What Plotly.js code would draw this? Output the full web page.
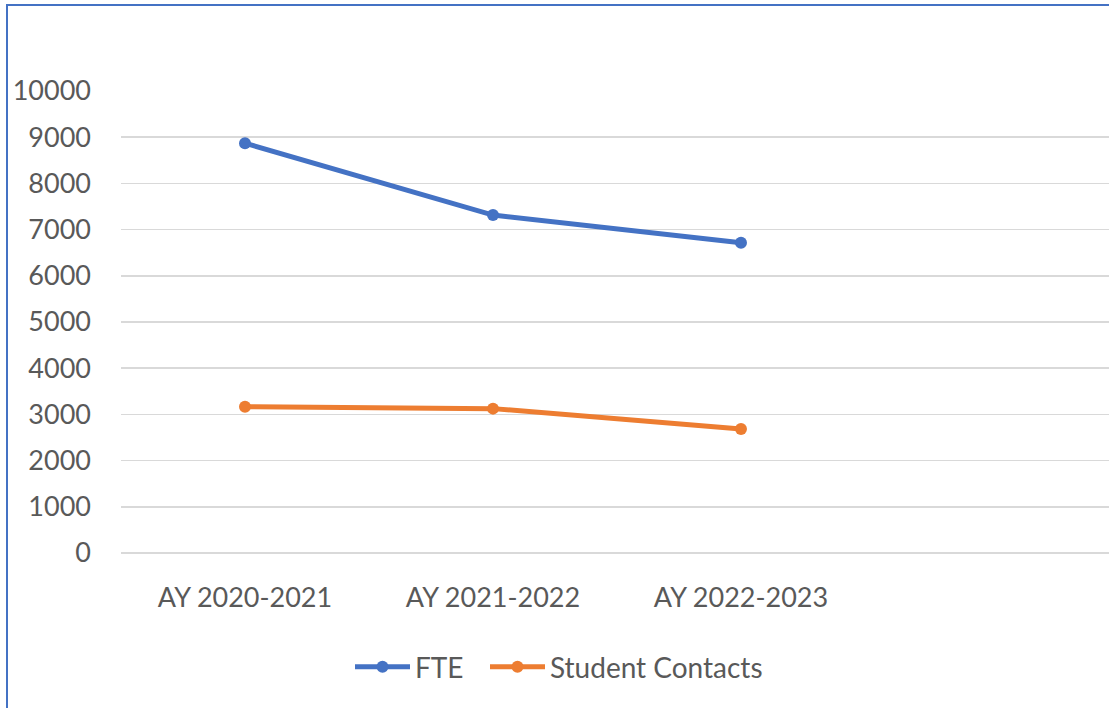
<!DOCTYPE html>
<html>
<head>
<meta charset="utf-8">
<script src="https://cdn.plot.ly/plotly-3.0.1.min.js"></script>
<style>
  html, body { margin: 0; padding: 0; background: #ffffff; overflow: hidden; }
  #chart { width: 1109px; height: 708px; position: absolute; left: 0; top: 0; }
  #frame { position: absolute; left: 6px; top: 4px; width: 1300px; height: 900px;
           border-left: 2px solid #4472C4; border-top: 2px solid #4472C4; pointer-events: none; }
</style>
</head>
<body>
<div id="chart"></div>
<div id="frame"></div>
<script>
const categories = ["AY 2020-2021", "AY 2021-2022", "AY 2022-2023"];
const fteValues = [8870, 7315, 6715];
const contactValues = [3165, 3125, 2685];
const seriesNames = ["FTE", "Student Contacts"];
const yTicks = [0, 1000, 2000, 3000, 4000, 5000, 6000, 7000, 8000, 9000, 10000];

const fontFamily = "Lato, 'Open Sans', 'Liberation Sans', sans-serif";
const textColor = "#595959";

const traces = [
  {
    x: categories, y: fteValues, name: seriesNames[0], type: "scatter", mode: "lines+markers",
    line: { color: "#4472C4", width: 5 },
    marker: { color: "#4472C4", size: 12 },
    cliponaxis: false, legend: "legend"
  },
  {
    x: categories, y: contactValues, name: seriesNames[1], type: "scatter", mode: "lines+markers",
    line: { color: "#ED7D31", width: 5 },
    marker: { color: "#ED7D31", size: 12 },
    cliponaxis: false, legend: "legend2"
  }
];

const legendCommon = {
  orientation: "h", xref: "container", yref: "container",
  xanchor: "left", y: 0.058, yanchor: "middle",
  font: { family: fontFamily, color: textColor, size: 28 },
  itemwidth: 55, bgcolor: "rgba(0,0,0,0)"
};

const layout = {
  width: 1109, height: 708,
  margin: { l: 121, r: 0, t: 91, b: 155, pad: 0 },
  paper_bgcolor: "#ffffff", plot_bgcolor: "#ffffff",
  font: { family: fontFamily, color: textColor, size: 27 },
  showlegend: true,
  legend: Object.assign({}, legendCommon, { x: 350 / 1109 }),
  legend2: Object.assign({}, legendCommon, { x: 485 / 1109 }),
  xaxis: {
    type: "category", categoryorder: "array", categoryarray: categories,
    range: [-0.5, 3.484], showgrid: false, zeroline: false, showline: false,
    ticks: "", ticklabelstandoff: 26,
    tickfont: { family: fontFamily, color: textColor, size: 27 }
  },
  yaxis: {
    range: [0, 10000], tickvals: yTicks, ticktext: yTicks.map(String),
    showgrid: true, gridcolor: "#d9d9d9", gridwidth: 1.5,
    zeroline: true, zerolinecolor: "#d9d9d9", zerolinewidth: 1.5,
    showline: false, ticks: "", ticklabelstandoff: 29,
    tickfont: { family: fontFamily, color: textColor, size: 27 }
  }
};

Plotly.newPlot("chart", traces, layout, { displayModeBar: false, staticPlot: true });
</script>
</body>
</html>
